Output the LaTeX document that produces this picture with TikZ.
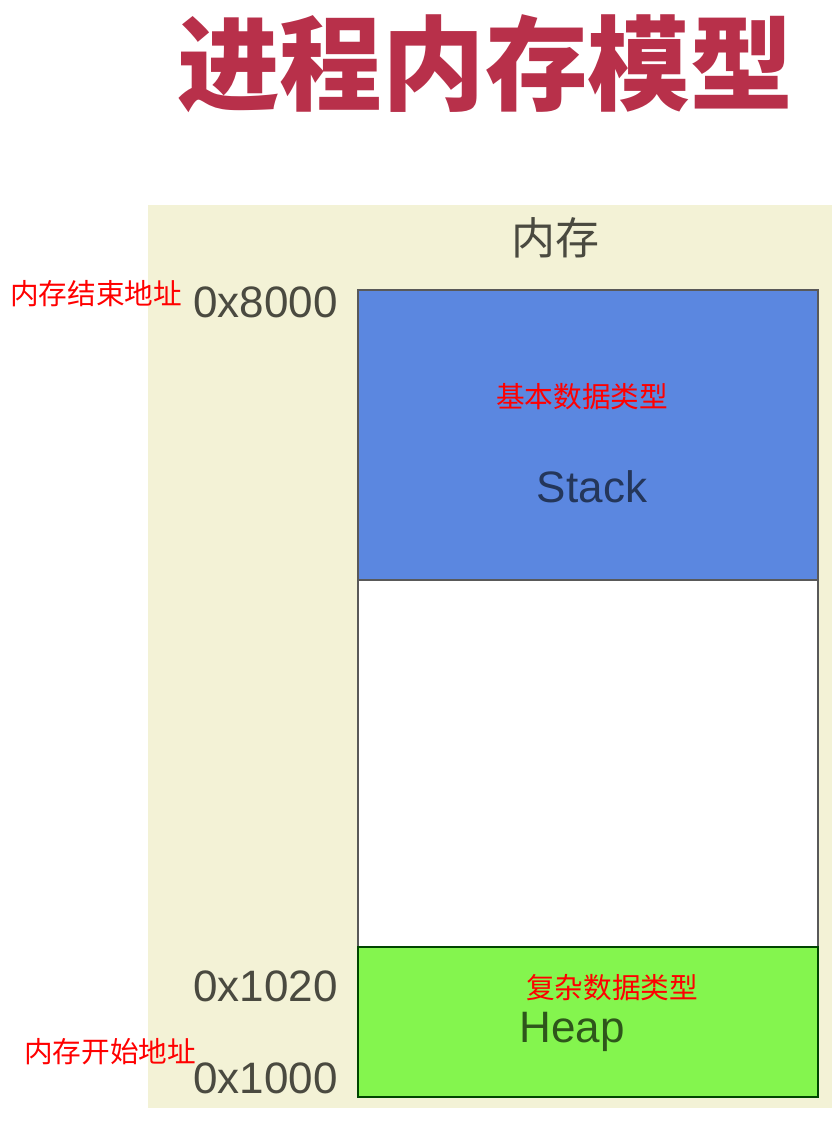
\documentclass[tikz,border=0pt]{standalone}
\usepackage{fontspec}
\setmainfont{Liberation Sans}
\newfontfamily\cjk{Noto Sans CJK SC}
\usetikzlibrary{positioning}

\definecolor{titlered}{HTML}{B8304A}
\definecolor{memback}{HTML}{F3F2D6}
\definecolor{stackblue}{HTML}{5B87E0}
\definecolor{heapgreen}{HTML}{84F54E}
\definecolor{addrgray}{HTML}{4A4A40}

\begin{document}
\begin{tikzpicture}
    [
        x=0.75pt, y=-0.75pt,
        segment/.style = {
            draw=black!65, line width=1.4pt
        },
        addr/.style = {
            anchor=base east, inner sep=0pt, text=addrgray,
            font=\fontsize{33}{36}\selectfont
        },
        note/.style = {
            inner sep=0pt, text=red,
            font=\cjk\fontsize{21.5}{24}\selectfont
        },
    ]
    \useasboundingbox (0,0) rectangle (832,1126);
    %\draw[help lines] (0,0) grid (832,1126);
    % title
    \node[inner sep=0pt, text=titlered, font=\cjk\bfseries\fontsize{77}{80}\selectfont]
        (title) at (485,64) {进程内存模型};
    % memory area
    \fill[memback] (148,205) rectangle (832,1108);
    \node[inner sep=0pt, text=addrgray, font=\cjk\fontsize{33}{36}\selectfont]
        (memory) at (555,238) {内存};
    \filldraw[segment, fill=stackblue] (358,290) rectangle (818,580);
    \filldraw[segment, fill=white] (358,580) rectangle (818,947);
    \filldraw[segment, draw=black!55!green!60!black, fill=heapgreen] (358,947) rectangle (818,1097);
    \node[anchor=base, inner sep=0pt, text=stackblue!40!black, font=\fontsize{33}{36}\selectfont]
        (stack) at (592,502) {Stack};
    \node[anchor=base, inner sep=0pt, text=heapgreen!35!black, font=\fontsize{33}{36}\selectfont]
        (heap) at (572,1042) {Heap};
    % addresses
    \node[addr] (addrend) at (338,318) {0x8000};
    \node[addr] (addrmid) at (338,1001) {0x1020};
    \node[addr] (addrstart) at (338,1093) {0x1000};
    % notes
    \node[note, anchor=west] (noteend) at (10,294) {内存结束地址};
    \node[note, anchor=west] (notestart) at (24,1052) {内存开始地址};
    \node[note] (notebasic) at (582,397) {基本数据类型};
    \node[note] (notecomplex) at (612,988) {复杂数据类型};
\end{tikzpicture}
\end{document}
